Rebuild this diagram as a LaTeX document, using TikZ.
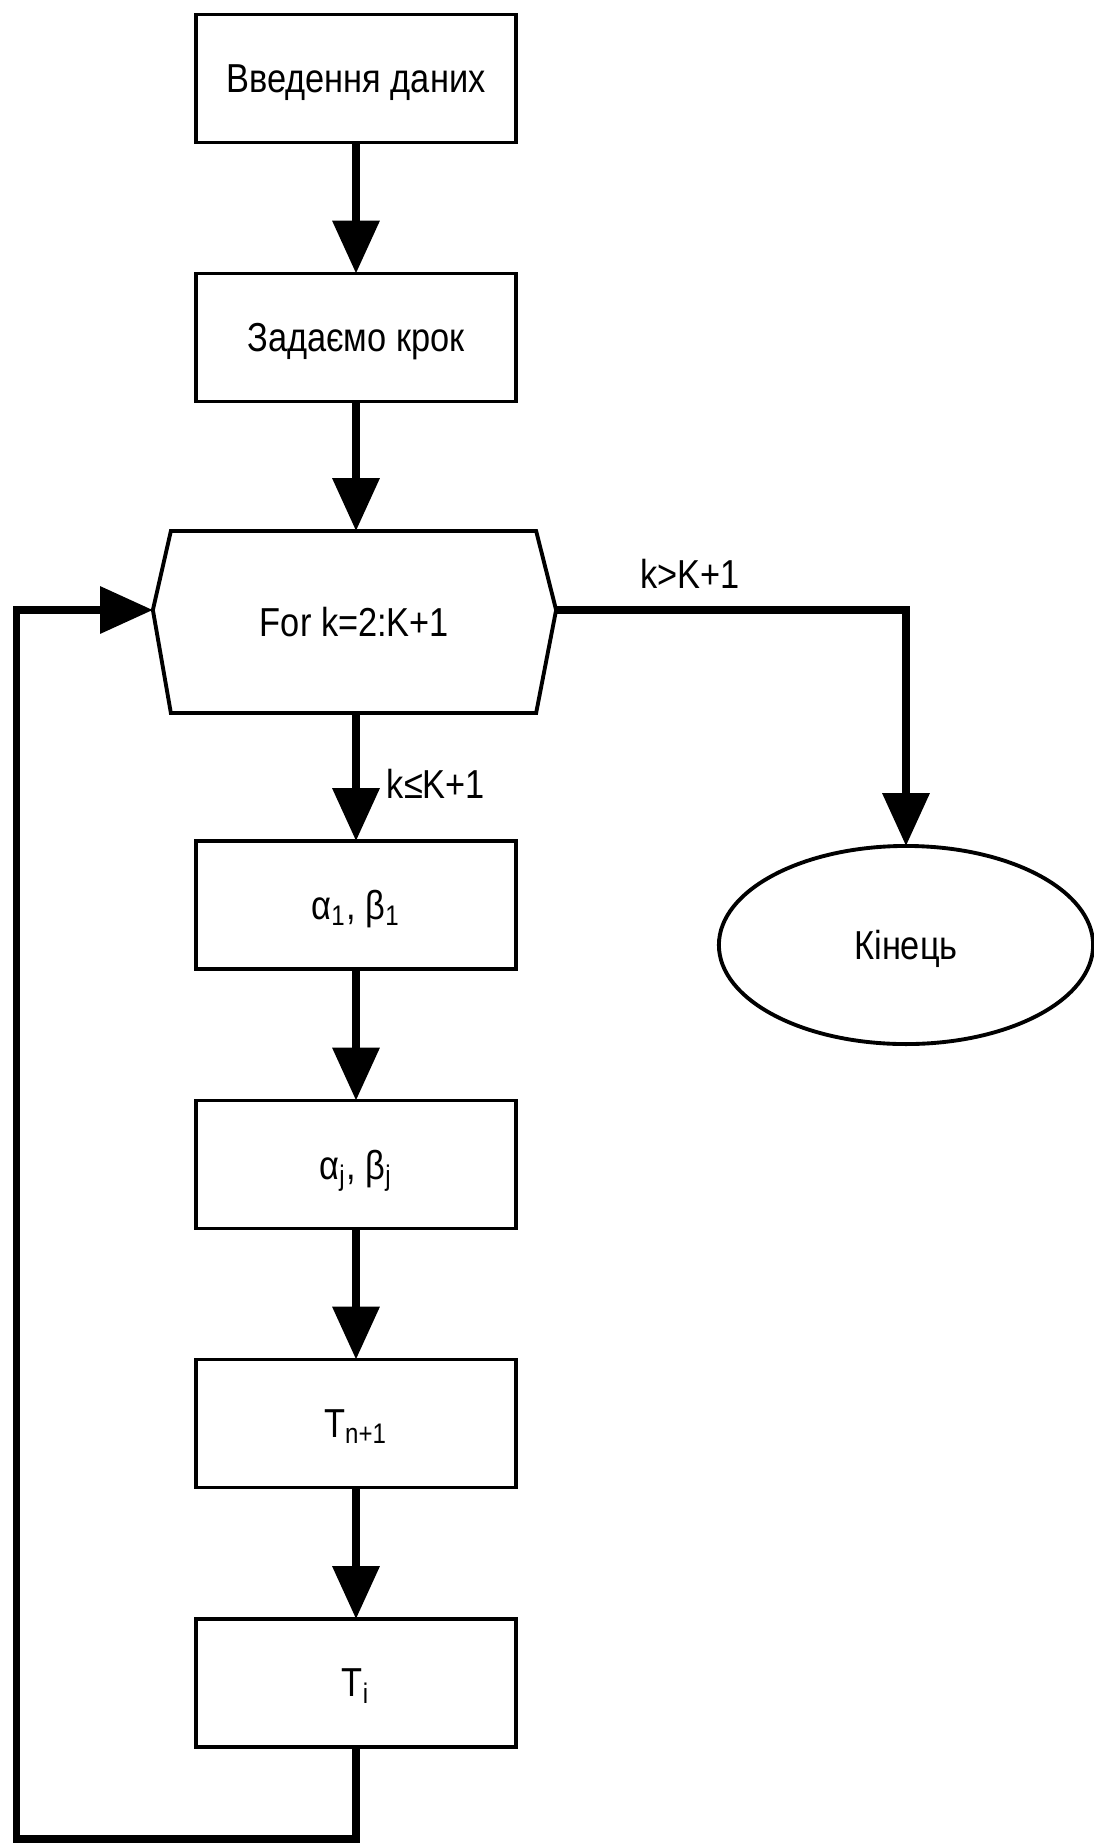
\documentclass[tikz,border=0pt]{standalone}
\usepackage{fontspec}
\setmainfont[FakeStretch=0.85]{Liberation Sans}
\usetikzlibrary{arrows.meta,shapes.geometric,calc}
\begin{document}
\begin{tikzpicture}[x=0.01cm,y=-0.01cm,
  txt/.style={font=\fontsize{11.5}{14}\selectfont, text depth=0pt},
  box/.style={txt, draw, line width=1.1pt, minimum width=3.2cm, minimum height=1.28cm, inner sep=0pt, outer sep=0pt},
  conn/.style={line width=2.1pt},
  arr/.style={conn, -{Triangle[width=13pt,length=15pt]}},
  lbl/.style={txt, inner sep=0pt}]
\useasboundingbox (0,0) rectangle (1093,1848);
\node[box] (b1) at (356,78.5) {Введення даних};
\node[box] (b2) at (356,337.5) {Задаємо крок};
\node[txt, minimum width=4.03cm, minimum height=1.82cm, inner sep=0pt, outer sep=0pt] (loop) at (354.5,622) {For k=2:K+1};
\coordinate (hexL) at ($(loop.west)+(0,-12)$);
\coordinate (hexR) at ($(loop.east)+(0,-12)$);
\draw[line width=1.1pt] (hexL) -- ($(loop.north west)+(18,0)$) -- ($(loop.north east)+(-20,0)$) -- (hexR) -- ($(loop.south east)+(-20,0)$) -- ($(loop.south west)+(18,0)$) -- cycle;
\node[box] (b3) at (356,905) {α\textsubscript{1}, β\textsubscript{1}};
\node[box] (b4) at (356,1164.5) {α\textsubscript{j}, β\textsubscript{j}};
\node[box] (b5) at (356,1423.5) {T\textsubscript{n+1}};
\node[box] (b6) at (356,1683) {T\textsubscript{i}};
\node[txt, draw, ellipse, line width=1.1pt, minimum width=3.74cm, minimum height=1.98cm, inner sep=0pt, outer sep=0pt] (end) at (906,945) {Кінець};
\coordinate (cb) at (16.5,1839);
\draw[arr] (b1.south) -- (b2.north);
\draw[arr] (b2.south) -- (b2.south |- loop.north);
\draw[arr] (b3.north |- loop.south) -- (b3.north);
\draw[arr] (b3.south) -- (b4.north);
\draw[arr] (b4.south) -- (b5.north);
\draw[arr] (b5.south) -- (b6.north);
\draw[arr] (hexR) -| (end.north);
\draw[arr] (b6.south) |- (cb) |- (hexL);
\node[lbl] (lgt) at (690,574) {k>K+1};
\node[lbl] (lle) at (436,784) {k≤K+1};
\end{tikzpicture}
\end{document}
